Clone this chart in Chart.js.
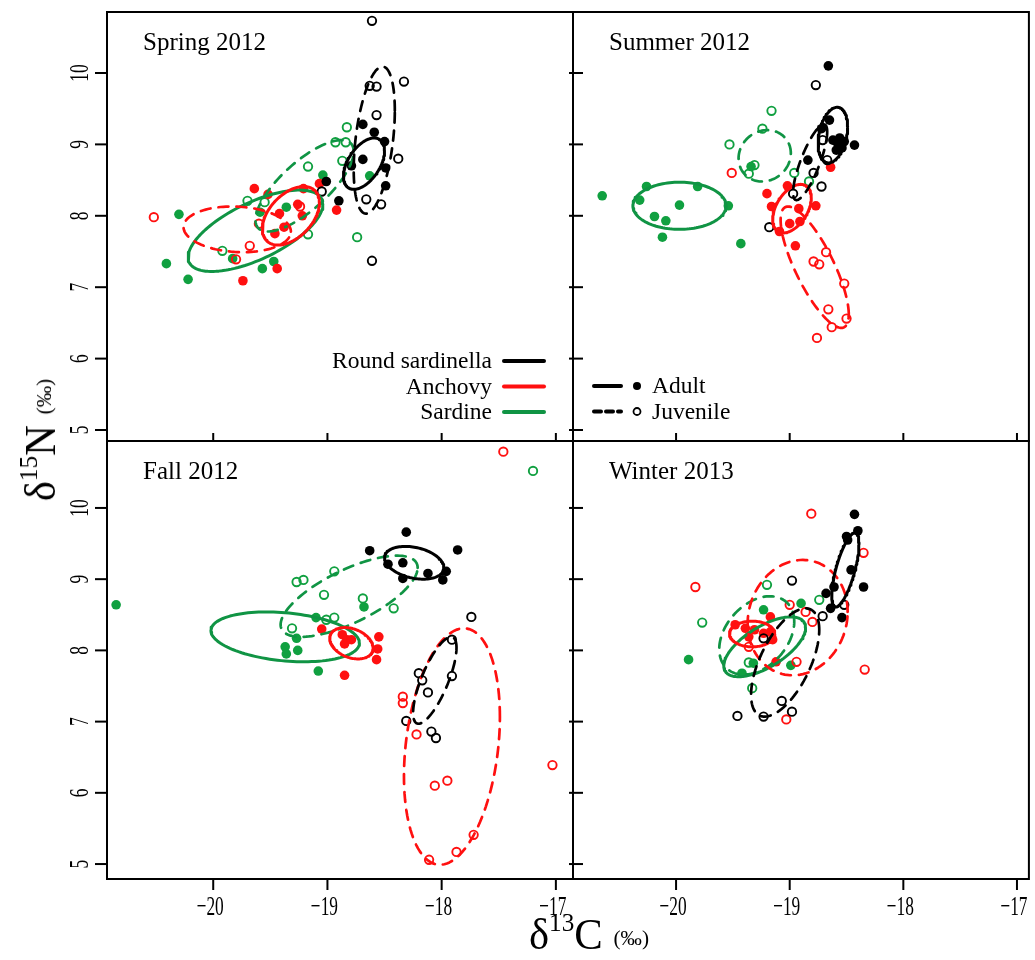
<!DOCTYPE html>
<html>
<head>
<meta charset="utf-8">
<script src="https://cdn.jsdelivr.net/npm/chart.js@4.4.0/dist/chart.umd.min.js"></script>
<style>
  body { margin: 0; background: #fff; }
  #wrap { position: relative; width: 1035px; height: 960px; overflow: hidden; font-family: "Liberation Serif", serif; }
  canvas { position: absolute; left: 0; top: 0; }
  .axTitle { position: absolute; white-space: nowrap; color: #000; line-height: 1; }
  .axTitle .big { font-size: 44px; }
  .axTitle sup { font-size: 26px; vertical-align: 18px; line-height: 0; }
  .axTitle .unit { font-size: 22px; margin-left: 11px; position: relative; top: -4px; }
  #xTitle { left: 529px; top: 913px; transform: scaleX(0.97); transform-origin: left top; }
  #yTitle { left: 41px; top: 440px; transform: translate(-50%, -50%) rotate(-90deg) scaleX(0.97); }
</style>
</head>
<body>
<div id="wrap">
  <canvas id="spring" width="1035" height="960"></canvas>
  <canvas id="summer" width="1035" height="960"></canvas>
  <canvas id="fall" width="1035" height="960"></canvas>
  <canvas id="winter" width="1035" height="960"></canvas>
  <div id="xTitle" class="axTitle"><span class="big">δ</span><sup>13</sup><span class="big">C</span><span class="unit">(‰)</span></div>
  <div id="yTitle" class="axTitle"><span class="big">δ</span><sup>15</sup><span class="big">N</span><span class="unit">(‰)</span></div>
</div>
<script>
// tick values
const xTicks = [-20, -19, -18, -17];
const yTicks = [5, 6, 7, 8, 9, 10];
const species = ['Round sardinella', 'Anchovy', 'Sardine'];
const stages = ['Adult', 'Juvenile'];

// points [d13C, d15N]
const springSardinellaAdult = [[-18.69,9.28],[-18.59,9.17],[-18.50,9.04],[-18.69,8.79],[-18.79,8.70],[-18.49,8.67],[-18.49,8.42],[-18.90,8.21],[-19.01,8.48]];
const springSardinellaJuvenile = [[-18.61,10.73],[-18.63,9.82],[-18.57,9.81],[-18.33,9.88],[-18.57,9.41],[-18.38,8.80],[-18.66,8.23],[-18.53,8.16],[-18.61,7.37],[-19.05,8.34]];
const springAnchovyAdult = [[-19.64,8.38],[-19.52,8.30],[-19.21,8.38],[-19.07,8.45],[-19.26,8.16],[-19.22,8.00],[-19.42,8.03],[-19.38,7.84],[-19.46,7.75],[-18.92,8.08],[-19.44,7.26],[-19.74,7.09]];
const springAnchovyJuvenile = [[-20.52,7.98],[-19.60,7.89],[-19.68,7.58],[-19.80,7.39],[-19.24,8.13]];
const springSardineAdult = [[-20.41,7.33],[-20.30,8.02],[-20.22,7.11],[-19.83,7.40],[-19.57,7.26],[-19.47,7.36],[-19.36,8.12],[-19.59,8.05],[-19.04,8.57],[-18.63,8.56]];
const springSardineJuvenile = [[-19.70,8.21],[-19.55,8.19],[-19.92,7.51],[-19.17,8.69],[-18.93,9.03],[-18.84,9.03],[-18.83,9.24],[-18.87,8.77],[-18.74,7.70],[-19.17,7.74]];

const summerSardinellaAdult = [[-18.66,10.10],[-18.65,9.34],[-18.72,9.22],[-18.62,9.06],[-18.58,9.02],[-18.52,9.04],[-18.43,8.99],[-18.59,8.92],[-18.54,8.95],[-18.56,9.09],[-18.84,8.78]];
const summerSardinellaJuvenile = [[-18.77,9.83],[-18.79,8.60],[-18.72,8.41],[-18.97,8.31],[-19.18,7.84],[-18.67,8.78],[-18.71,9.06]];
const summerAnchovyAdult = [[-19.02,8.42],[-19.20,8.31],[-19.16,8.13],[-18.92,8.10],[-18.77,8.14],[-19.00,7.89],[-19.09,7.78],[-18.95,7.58],[-18.64,8.68],[-18.91,7.92]];
const summerAnchovyJuvenile = [[-19.51,8.60],[-18.68,7.49],[-18.79,7.36],[-18.74,7.32],[-18.52,7.05],[-18.66,6.69],[-18.50,6.56],[-18.63,6.44],[-18.76,6.29]];
const summerSardineAdult = [[-20.65,8.28],[-20.26,8.41],[-20.32,8.22],[-19.97,8.15],[-19.81,8.41],[-19.54,8.14],[-20.19,7.99],[-20.09,7.93],[-20.12,7.70],[-19.43,7.61],[-19.34,8.69]];
const summerSardineJuvenile = [[-19.16,9.47],[-19.24,9.22],[-19.53,9.00],[-19.31,8.71],[-19.36,8.59],[-18.96,8.60],[-18.83,8.48]];

const fallSardinellaAdult = [[-18.31,9.66],[-18.63,9.40],[-17.86,9.41],[-18.47,9.21],[-18.34,9.23],[-18.34,9.01],[-18.12,9.08],[-17.96,9.11],[-17.99,8.99]];
const fallSardinellaJuvenile = [[-17.74,8.47],[-17.91,8.15],[-18.20,7.68],[-18.17,7.58],[-18.12,7.41],[-17.91,7.64],[-18.31,7.01],[-18.09,6.86],[-18.05,6.77]];
const fallAnchovyAdult = [[-19.05,8.30],[-18.87,8.22],[-18.83,8.15],[-18.85,8.09],[-18.79,8.15],[-18.55,8.19],[-18.56,8.02],[-18.57,7.87],[-18.85,7.65]];
const fallAnchovyJuvenile = [[-18.34,7.35],[-18.34,7.26],[-18.22,6.82],[-18.06,6.10],[-17.95,6.17],[-17.72,5.41],[-17.87,5.17],[-18.11,5.06],[-17.46,10.79],[-17.03,6.39]];
const fallSardineAdult = [[-20.85,8.64],[-19.10,8.46],[-19.37,8.05],[-19.36,7.95],[-19.26,8.00],[-19.27,8.17],[-19.08,7.71],[-18.68,8.61]];
const fallSardineJuvenile = [[-19.27,8.96],[-19.21,8.99],[-18.94,9.11],[-19.03,8.78],[-18.69,8.73],[-18.42,8.59],[-19.01,8.43],[-18.94,8.46],[-19.31,8.31],[-17.20,10.52]];

const winterSardinellaAdult = [[-18.43,9.91],[-18.40,9.68],[-18.50,9.60],[-18.49,9.55],[-18.46,9.13],[-18.35,8.89],[-18.61,8.89],[-18.68,8.80],[-18.64,8.59],[-18.54,8.46]];
const winterSardinellaJuvenile = [[-18.98,8.98],[-19.23,8.17],[-18.71,8.48],[-18.52,8.64],[-19.07,7.29],[-18.98,7.14],[-19.46,7.08],[-19.23,7.07]];
const winterAnchovyAdult = [[-19.48,8.36],[-19.39,8.31],[-19.31,8.29],[-19.23,8.24],[-19.17,8.26],[-19.36,8.19],[-19.15,8.15],[-19.17,8.47],[-19.12,7.84]];
const winterAnchovyJuvenile = [[-18.81,9.92],[-19.83,8.89],[-18.35,9.37],[-19.00,8.64],[-18.80,8.40],[-18.86,8.54],[-19.36,8.05],[-18.94,7.84],[-18.34,7.73],[-19.03,7.03]];
const winterSardineAdult = [[-19.89,7.87],[-19.23,8.57],[-18.90,8.66],[-19.32,7.82],[-18.99,7.79],[-19.42,7.68]];
const winterSardineJuvenile = [[-19.77,8.39],[-19.20,8.92],[-18.74,8.71],[-19.36,7.83],[-19.33,7.47]];

// standard ellipses [centre C, centre N, half width C, half height N, correlation]
// order: sardinella adult, sardinella juvenile, anchovy adult, anchovy juvenile, sardine adult, sardine juvenile
const springEllipses = [[-18.68,8.73,0.18,0.36,0.5],[-18.59,9.06,0.18,1.03,0.4],[-19.32,8.00,0.25,0.41,0.45],[-19.79,7.81,0.47,0.32,-0.1],[-19.63,7.79,0.59,0.57,0.65],[-19.20,8.42,0.43,0.64,0.75]];
const summerEllipses = [[-18.62,9.13,0.13,0.39,0.3],[-18.82,8.75,0.15,0.53,0.8],[-18.98,8.10,0.17,0.34,0.45],[-18.78,7.28,0.30,0.85,-0.78],[-19.97,8.14,0.41,0.33,0.0],[-19.22,8.84,0.23,0.36,0.1]];
const fallEllipses = [[-18.24,9.23,0.26,0.23,-0.3],[-18.06,7.58,0.19,0.61,0.75],[-18.79,8.10,0.19,0.22,-0.3],[-17.91,6.65,0.42,1.66,0.25],[-19.37,8.19,0.65,0.35,-0.25],[-18.81,8.76,0.60,0.57,0.7]];
const winterEllipses = [[-18.51,9.13,0.12,0.52,0.7],[-19.04,7.83,0.30,0.76,0.6],[-19.33,8.23,0.20,0.18,0.0],[-18.93,8.46,0.44,0.81,0.1],[-19.22,8.05,0.36,0.42,0.64],[-19.29,8.21,0.33,0.55,0.35]];

const lineColors = ['#000000', '#ff1010', '#109444'];
const pointColors = ['#000000', '#ff1010', '#10a040'];

function toXY(arr) { return arr.map(p => ({ x: p[0], y: p[1] })); }

function ellipsePath(e) {
  const [cx, cy, rx, ry, rho] = e;
  const d = Math.acos(rho);
  const out = [];
  for (let i = 0; i <= 120; i++) {
    const t = i / 120 * 2 * Math.PI;
    out.push({ x: cx + rx * Math.cos(t), y: cy + ry * Math.cos(t - d) });
  }
  return out;
}

function condensed(ctx, text, x, y, rot) {
  ctx.save();
  ctx.translate(x, y);
  if (rot) ctx.rotate(-Math.PI / 2);
  ctx.scale(0.62, 1);
  ctx.fillText(text, 0, 0);
  ctx.restore();
}

function seg(ctx, x1, y1, x2, y2) {
  ctx.beginPath(); ctx.moveTo(x1, y1); ctx.lineTo(x2, y2); ctx.stroke();
}

const panelFrame = {
  id: 'panelFrame',
  afterDraw(chart, args, o) {
    const { ctx, chartArea: a } = chart;
    const xs = chart.scales.x, ys = chart.scales.y;
    ctx.save();
    ctx.strokeStyle = '#000';
    ctx.fillStyle = '#000';
    ctx.lineWidth = 2;
    ctx.lineCap = 'butt';
    ctx.setLineDash([]);
    ctx.strokeRect(a.left, a.top, a.right - a.left, a.bottom - a.top);

    // y ticks
    ctx.font = '28px "Liberation Serif"';
    ctx.textAlign = 'center';
    ctx.textBaseline = 'middle';
    yTicks.forEach(v => {
      const py = ys.getPixelForValue(v);
      if (py < a.top - 1 || py > a.bottom + 1) return;
      seg(ctx, a.left + o.yTick[0], py, a.left + o.yTick[1], py);
      if (o.yLabels) condensed(ctx, String(v), a.left - 26, py, true);
    });
    // x ticks
    ctx.textBaseline = 'top';
    xTicks.forEach(v => {
      const px = xs.getPixelForValue(v);
      if (px < a.left - 1 || px > a.right + 1) return;
      seg(ctx, px, a.bottom + o.xTick[0], px, a.bottom + o.xTick[1]);
      if (o.xLabels) condensed(ctx, String(v).replace('-', '\u2212'), px - 3, a.bottom + 15, false);
    });

    // panel title
    ctx.font = '25px "Liberation Serif"';
    ctx.textAlign = 'left';
    ctx.textBaseline = 'alphabetic';
    ctx.fillText(o.title, a.left + 36, a.top + 38);

    ctx.lineCap = 'round';
    if (o.legend === 'species') {
      ctx.font = '23.5px "Liberation Serif"';
      ctx.textAlign = 'right';
      ctx.lineWidth = 4;
      species.forEach((s, i) => {
        const yy = a.top + 349 + i * 25.5;
        ctx.fillText(s, a.left + 385, yy + 7);
        ctx.strokeStyle = lineColors[i];
        seg(ctx, a.left + 397, yy, a.left + 437, yy);
      });
    }
    if (o.legend === 'stage') {
      ctx.font = '23.5px "Liberation Serif"';
      ctx.textAlign = 'left';
      stages.forEach((s, i) => {
        const yy = a.top + 374 + i * 25.5;
        ctx.strokeStyle = '#000';
        ctx.lineWidth = 4;
        ctx.setLineDash(i ? [7, 5] : []);
        seg(ctx, a.left + 21, yy, a.left + 48, yy);
        ctx.setLineDash([]);
        ctx.beginPath();
        ctx.arc(a.left + 64, yy, i ? 3.5 : 4, 0, 2 * Math.PI);
        if (i) { ctx.lineWidth = 1.8; ctx.stroke(); } else ctx.fill();
        ctx.fillText(s, a.left + 79, yy + 7);
      });
    }
    ctx.restore();
  }
};

function makePanel(id, box, xr, yr, groups, ellipses, frame) {
  const datasets = [];
  ellipses.forEach((e, i) => {
    const sp = Math.floor(i / 2), juv = i % 2 === 1;
    datasets.push({
      type: 'scatter', showLine: true, data: ellipsePath(e), order: 0,
      borderColor: lineColors[sp], borderWidth: juv ? 2.7 : 3,
      borderDash: juv ? [10, 8] : [], borderCapStyle: 'round', borderJoinStyle: 'round',
      pointRadius: 0, tension: 0, fill: false
    });
  });
  groups.forEach((g, i) => {
    const sp = Math.floor(i / 2), juv = i % 2 === 1;
    datasets.push({
      type: 'scatter', data: toXY(g), order: 1,
      pointStyle: 'circle',
      pointRadius: juv ? 4.2 : 4.8,
      borderWidth: juv ? 1.9 : 0,
      borderColor: pointColors[sp],
      backgroundColor: juv ? 'rgba(0,0,0,0)' : pointColors[sp]
    });
  });
  new Chart(document.getElementById(id), {
    type: 'scatter',
    data: { datasets },
    options: {
      responsive: false, animation: false, devicePixelRatio: 1,
      layout: { padding: { left: box[0], top: box[1], right: 1035 - box[2], bottom: 960 - box[3] } },
      scales: {
        x: { type: 'linear', min: xr[0], max: xr[1], display: false },
        y: { type: 'linear', min: yr[0], max: yr[1], display: false }
      },
      plugins: { legend: { display: false }, tooltip: { enabled: false }, panelFrame: frame }
    },
    plugins: [panelFrame]
  });
}

const xLeft = [-20.93, -16.85], xRight = [-20.907, -16.895];
const yTop = [4.846, 10.854], yBottom = [4.79, 10.94];

makePanel('spring', [107, 12, 573, 441], xLeft, yTop,
  [springSardinellaAdult, springSardinellaJuvenile, springAnchovyAdult, springAnchovyJuvenile, springSardineAdult, springSardineJuvenile],
  springEllipses, { title: 'Spring 2012', yLabels: true, xLabels: false, yTick: [-12, 0], xTick: [-8, 0], legend: 'species' });
makePanel('summer', [573, 12, 1033, 441], xRight, yTop,
  [summerSardinellaAdult, summerSardinellaJuvenile, summerAnchovyAdult, summerAnchovyJuvenile, summerSardineAdult, summerSardineJuvenile],
  summerEllipses, { title: 'Summer 2012', yLabels: false, xLabels: false, yTick: [-4, 10], xTick: [-8, 0], legend: 'stage' });
makePanel('fall', [107, 441, 573, 879], xLeft, yBottom,
  [fallSardinellaAdult, fallSardinellaJuvenile, fallAnchovyAdult, fallAnchovyJuvenile, fallSardineAdult, fallSardineJuvenile],
  fallEllipses, { title: 'Fall 2012', yLabels: true, xLabels: true, yTick: [-12, 0], xTick: [0, 11], legend: null });
makePanel('winter', [573, 441, 1033, 879], xRight, yBottom,
  [winterSardinellaAdult, winterSardinellaJuvenile, winterAnchovyAdult, winterAnchovyJuvenile, winterSardineAdult, winterSardineJuvenile],
  winterEllipses, { title: 'Winter 2013', yLabels: false, xLabels: true, yTick: [-4, 10], xTick: [0, 11], legend: null });
</script>
</body>
</html>
